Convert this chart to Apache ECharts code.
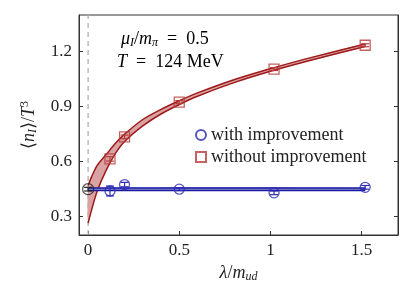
<!DOCTYPE html>
<html><head><meta charset="utf-8">
<script src="https://cdn.jsdelivr.net/npm/echarts@6/dist/echarts.min.js"></script>
<style>html,body{margin:0;padding:0;background:#fff}#c{width:414px;height:302px}</style>
</head><body><div id="c"></div>
<script>
// ---- data ----
const xTicks = [0, 0.5, 1, 1.5];
const yTicks = [0.3, 0.6, 0.9, 1.2];
const lambda = [0.12, 0.2, 0.5, 1.02, 1.52];
const withImp = [0.44, 0.475, 0.45, 0.43, 0.46];
const withImpErr = [0.027, 0.012, 0.008, 0.01, 0.01];
const withoutImp = [0.615, 0.735, 0.925, 1.105, 1.235];
const withoutImpErr = [0.012, 0.01, 0.008, 0.008, 0.008];
const extrapX = [0];
const extrapY = [0.45];
const extrapErr = [0.01];
// red fit band (without improvement)
const redBandX = [0, 0.02, 0.05, 0.1, 0.15, 0.2, 0.3, 0.4, 0.5, 0.6, 0.8, 1.0, 1.2, 1.52];
const redUpper = [0.47, 0.52, 0.58, 0.64, 0.70, 0.75, 0.83, 0.885, 0.932, 0.975, 1.047, 1.107, 1.162, 1.242];
const redLower = [0.265, 0.34, 0.44, 0.555, 0.645, 0.71, 0.795, 0.86, 0.912, 0.957, 1.031, 1.093, 1.148, 1.228];
// blue fit band (with improvement)
const blueBandX = [0, 1.52];
const blueUpper = [0.457, 0.457];
const blueLower = [0.443, 0.443];

const RED = '#9e1a1a', REDFILL = '#d9a3a3', REDMK = '#b83a3a';
const BLUE = '#1a1aa0', BLUEFILL = '#8f8fd6', BLUEMK = '#2b2bb5';
const FONT = 'Liberation Serif';

function bandSeries(xs, lo, hi, fill, z) {
  return {
    type: 'custom', silent: true, z: z,
    data: xs.map((x, i) => [x, lo[i], hi[i]]),
    encode: {x: 0, y: [1, 2]},
    renderItem: function (params, api) {
      if (params.dataIndex !== 0) return null;
      const pts = [];
      for (let i = 0; i < xs.length; i++) pts.push(api.coord([xs[i], hi[i]]));
      for (let i = xs.length - 1; i >= 0; i--) pts.push(api.coord([xs[i], lo[i]]));
      return {type: 'polygon', shape: {points: pts, smooth: 0.3}, style: {fill: fill, stroke: null}};
    }
  };
}
function edge(xs, ys, color, z) {
  return {type: 'line', silent: true, z: z, data: xs.map((x, i) => [x, ys[i]]), symbol: 'none',
    lineStyle: {color: color, width: 1.5}, smooth: 0.3};
}
function errSeries(xs, ys, es, color, z) {
  return {
    type: 'custom', silent: true, z: z,
    data: xs.map((x, i) => [x, ys[i], es[i]]),
    encode: {x: 0, y: 1},
    renderItem: function (params, api) {
      const x = api.value(0), y = api.value(1), e = api.value(2);
      const a = api.coord([x, y - e]), b = api.coord([x, y + e]);
      const w = 4;
      return {type: 'group', children: [
        {type: 'line', shape: {x1: a[0], y1: a[1], x2: b[0], y2: b[1]}, style: {stroke: color, lineWidth: 1.2}},
        {type: 'line', shape: {x1: a[0] - w, y1: a[1], x2: a[0] + w, y2: a[1]}, style: {stroke: color, lineWidth: 1.2}},
        {type: 'line', shape: {x1: b[0] - w, y1: b[1], x2: b[0] + w, y2: b[1]}, style: {stroke: color, lineWidth: 1.2}}
      ]};
    }
  };
}

const chart = echarts.init(document.getElementById('c'), null, {renderer: 'canvas'});
const subRich = {
  i: {fontFamily: FONT, fontStyle: 'italic', fontSize: 18, color: '#222', lineHeight: 20},
  n: {fontFamily: FONT, fontSize: 18, color: '#222', lineHeight: 20},
  sub: {fontFamily: FONT, fontStyle: 'italic', fontSize: 12, color: '#222', verticalAlign: 'bottom', lineHeight: 12},
  sup: {fontFamily: FONT, fontSize: 12, color: '#222', verticalAlign: 'top', lineHeight: 12}
};
chart.setOption({
  animation: false,
  grid: {left: 79, right: 16, top: 15, bottom: 67, show: true, borderColor: '#333', borderWidth: 1},
  legend: {
    left: 190, top: 120, orient: 'vertical', itemWidth: 10, itemHeight: 10, itemGap: 2,
    textStyle: {fontFamily: FONT, fontSize: 18, color: '#222', lineHeight: 20},
    data: [{name: 'with improvement', icon: 'circle'}, {name: 'without improvement', icon: 'rect'}]
  },
  xAxis: [{
    type: 'value', min: -0.05, max: 1.7,
    name: '{i|λ}{n|/}{i|m}{sub|ud}', nameLocation: 'middle', nameGap: 26,
    nameTextStyle: {rich: subRich},
    axisLine: {onZero: false, lineStyle: {color: '#333'}},
    axisTick: {inside: true, length: 4, customValues: xTicks, lineStyle: {color: '#333'}},
    axisLabel: {customValues: xTicks, fontFamily: FONT, fontSize: 17, color: '#222', margin: 7,
      formatter: v => String(v)},
    splitLine: {show: false}
  }],
  yAxis: [{
    type: 'value', min: 0.2, max: 1.4,
    name: '{n|⟨}{i|n}{sub|I}{n|⟩/}{i|T}{sup|3}', nameLocation: 'middle', nameGap: 40, nameRotate: 90,
    nameTextStyle: {rich: subRich},
    axisLine: {show: true, onZero: false, lineStyle: {color: '#333'}},
    axisTick: {inside: true, length: 4, customValues: yTicks, lineStyle: {color: '#333'}},
    axisLabel: {customValues: yTicks, fontFamily: FONT, fontSize: 17, color: '#222', margin: 7,
      formatter: v => v.toFixed(1)},
    splitLine: {show: false}
  }, {
    type: 'value', min: 0.2, max: 1.4, position: 'right',
    axisLine: {show: true, onZero: false, lineStyle: {color: '#333'}},
    axisTick: {inside: true, length: 4, customValues: yTicks, lineStyle: {color: '#333'}},
    axisLabel: {show: false}, splitLine: {show: false}
  }],
  graphic: [
    {type: 'text', left: 121, top: 30, z: 10, style: {
      text: '{i|μ}{sub|I}{n|/}{i|m}{sub|π}{n|  =  0.5}', rich: subRich}},
    {type: 'text', left: 117, top: 53, z: 10, style: {
      text: '{i|T}{n|  =  124 MeV}', rich: subRich}}
  ],
  series: [
    {type: 'line', silent: true, z: 1, symbol: 'none', data: [[0, 0.2], [0, 1.4]],
      lineStyle: {color: '#b0b0b0', width: 1.3, type: [5, 4]}},
    bandSeries(redBandX, redLower, redUpper, REDFILL, 2),
    edge(redBandX, redUpper, RED, 3),
    edge(redBandX, redLower, RED, 3),
    bandSeries(blueBandX, blueLower, blueUpper, BLUEFILL, 4),
    edge(blueBandX, blueUpper, BLUE, 5),
    edge(blueBandX, blueLower, BLUE, 5),
    errSeries(lambda, withImp, withImpErr, BLUEMK, 6),
    errSeries(lambda, withoutImp, withoutImpErr, REDMK, 6),
    errSeries(extrapX, extrapY, extrapErr, '#222', 6),
    {name: 'with improvement', type: 'scatter', z: 7, symbol: 'circle', symbolSize: 10,
      data: lambda.map((x, i) => [x, withImp[i]]),
      itemStyle: {color: 'rgba(0,0,0,0)', borderColor: BLUEMK, borderWidth: 1.3}},
    {name: 'without improvement', type: 'scatter', z: 7, symbol: 'rect', symbolSize: 10,
      data: lambda.map((x, i) => [x, withoutImp[i]]),
      itemStyle: {color: 'rgba(0,0,0,0)', borderColor: REDMK, borderWidth: 1.3}},
    {name: 'extrapolation', type: 'scatter', z: 7, symbol: 'circle', symbolSize: 11,
      data: extrapX.map((x, i) => [x, extrapY[i]]),
      itemStyle: {color: 'rgba(0,0,0,0)', borderColor: '#222', borderWidth: 1.2}}
  ]
});
</script></body></html>
